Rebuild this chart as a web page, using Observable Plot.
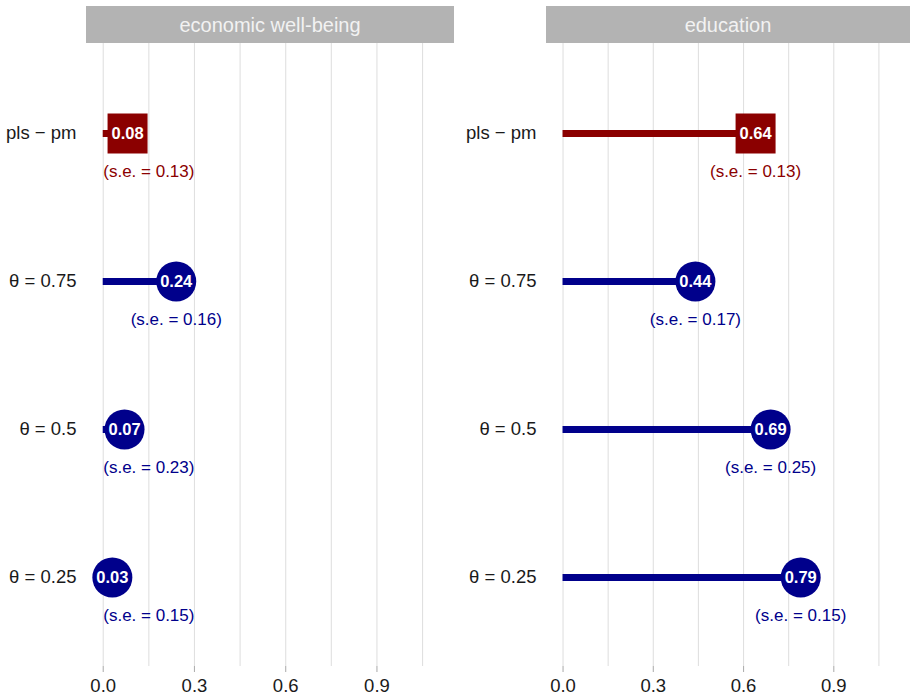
<!DOCTYPE html>
<html>
<head>
<meta charset="utf-8">
<script src="https://cdn.jsdelivr.net/npm/d3@7"></script>
<script src="https://cdn.jsdelivr.net/npm/@observablehq/plot@0.6"></script>
<style>
  html, body { margin: 0; padding: 0; background: #fff; }
  #chart { position: relative; width: 911px; height: 697px; font-family: "Liberation Sans", Arial, sans-serif; }
  .strip { position: absolute; top: 6px; height: 37px; background: #b3b3b3; color: #f2f2f2;
           font-size: 20px; line-height: 38px; text-align: center; }
  .panel { position: absolute; top: 43px; }
</style>
</head>
<body>
<div id="chart"></div>
<script>
// Facets and row labels
const panels = ["economic well-being", "education"];
const methods = ["pls − pm", "θ = 0.75", "θ = 0.5", "θ = 0.25"];

// Estimated effects and their standard errors, one entry per method
const econValues = [0.08, 0.24, 0.07, 0.03];
const econSE = [0.13, 0.16, 0.23, 0.15];
const eduValues = [0.64, 0.44, 0.69, 0.79];
const eduSE = [0.13, 0.17, 0.25, 0.15];

// Axis ticks (labelled) and grid lines (major + minor)
const xTicks = [0, 0.3, 0.6, 0.9];
const gridTicks = [0, 0.15, 0.3, 0.45, 0.6, 0.75, 0.9, 1.05];

const RED = "#8b0000";
const BLUE = "#00008b";
const FONT = "'Liberation Sans', Arial, sans-serif";

function lollipop(values, ses, width, marginLeft) {
  const rows = methods.map((m, i) => ({
    method: m, v: values[i], se: ses[i],
    color: i === 0 ? RED : BLUE, square: i === 0
  }));
  return Plot.plot({
    width, height: 654,
    marginTop: 0, marginBottom: 31, marginLeft, marginRight: 1,
    x: {domain: [-0.055, 1.155]},
    y: {type: "point", domain: methods, padding: 0.6},
    style: {fontFamily: FONT, fontSize: "18px", background: "white", overflow: "visible"},
    marks: [
      Plot.gridX(gridTicks, {stroke: "#e0e0e0", strokeOpacity: 1, strokeWidth: 1.1}),
      Plot.axisX({ticks: xTicks, tickSize: 6, tickPadding: 6, fontSize: 18.5,
                  tickFormat: d => d.toFixed(1), label: null, fill: "#1a1a1a",
                  stroke: "#b0b0b0", strokeWidth: 1.1}),
      Plot.axisY({tickSize: 0, tickPadding: 10, fontSize: 18.5, label: null, fill: "#1a1a1a"}),
      Plot.ruleY(rows, {y: "method", x1: 0, x2: "v", stroke: "color", strokeWidth: 7}),
      Plot.dot(rows.filter(d => d.square), {x: "v", y: "method", symbol: "square",
                r: 40 / Math.sqrt(Math.PI), fill: "color"}),
      Plot.dot(rows.filter(d => !d.square), {x: "v", y: "method", r: 20, fill: "color"}),
      Plot.text(rows, {x: "v", y: "method", text: d => d.v.toFixed(2), fill: "white",
                fontWeight: "bold", fontSize: 16.5}),
      // standard-error note under each marker, kept clear of the zero line
      Plot.text(rows, {x: d => Math.max(d.v, 0.15), y: "method", dy: 38,
                text: d => `(s.e. = ${d.se.toFixed(2)})`, fill: "color", fontSize: 17})
    ]
  });
}

const chart = document.getElementById("chart");
const layout = [
  {title: panels[0], values: econValues, ses: econSE, left: 0, width: 455, marginLeft: 86},
  {title: panels[1], values: eduValues, ses: eduSE, left: 455, width: 456, marginLeft: 91}
];
for (const p of layout) {
  const strip = document.createElement("div");
  strip.className = "strip";
  strip.style.left = (p.left + p.marginLeft) + "px";
  strip.style.width = (p.width - p.marginLeft - 1) + "px";
  strip.textContent = p.title;
  chart.appendChild(strip);

  const svg = lollipop(p.values, p.ses, p.width, p.marginLeft);
  svg.classList.add("panel");
  svg.style.left = p.left + "px";
  chart.appendChild(svg);
}
</script>
</body>
</html>
